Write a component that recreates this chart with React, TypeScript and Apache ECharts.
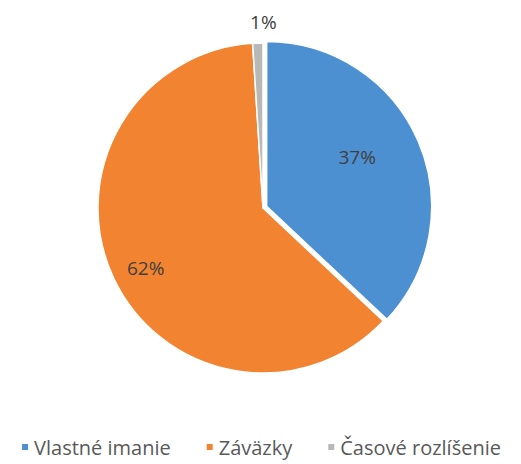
import React, { useEffect, useRef } from "react";
import * as echarts from "echarts";

const categories = ["Vlastné imanie", "Záväzky", "Časové rozlíšenie"];
const values = [37, 62, 1];
const colors = ["#4d90d2", "#f28431", "#b8b8b8"];

export default function App() {
  const ref = useRef<HTMLDivElement>(null);
  useEffect(() => {
    if (!ref.current) return;
    const chart = echarts.init(ref.current, null, { renderer: "svg" });
    const labelOffsets: Record<string, any> = {
      "Vlastné imanie": {
        position: "inside",
        offset: [51, -41],
        padding: [0, 0, 0, 24],
        formatter: "{c}%\n ",
        lineHeight: 30,
      },
      "Záväzky": { position: "inside", offset: [-40, 24] },
      "Časové rozlíšenie": { position: "outside", offset: [24, -15] },
    };
    chart.setOption({
      animation: false,
      backgroundColor: "#ffffff",
      legend: {
        top: 424,
        left: "center",
        itemWidth: 8,
        itemHeight: 8,
        itemGap: 34,
        icon: "rect",
        textStyle: { fontSize: 20, color: "#595959", fontFamily: "Open Sans" },
        data: categories,
      },
      series: [
        {
          type: "pie",
          center: [255, 200],
          radius: [0, 165],
          startAngle: 90,
          clockwise: true,
          selectedMode: "single",
          selectedOffset: 4,
          avoidLabelOverlap: false,
          itemStyle: { borderColor: "#ffffff", borderWidth: 1.5 },
          label: {
            formatter: "{c}%",
            fontSize: 19,
            color: "#404040",
            fontFamily: "Open Sans",
          },
          labelLine: { show: false, length: 6, length2: 0 },
          data: categories.map((name, i) => ({
            name,
            value: values[i],
            selected: i === 0,
            itemStyle: { color: colors[i] },
            label: labelOffsets[name],
          })),
        },
      ],
    });
    return () => chart.dispose();
  }, []);
  return <div ref={ref} style={{ width: 505, height: 456 }} />;
}
